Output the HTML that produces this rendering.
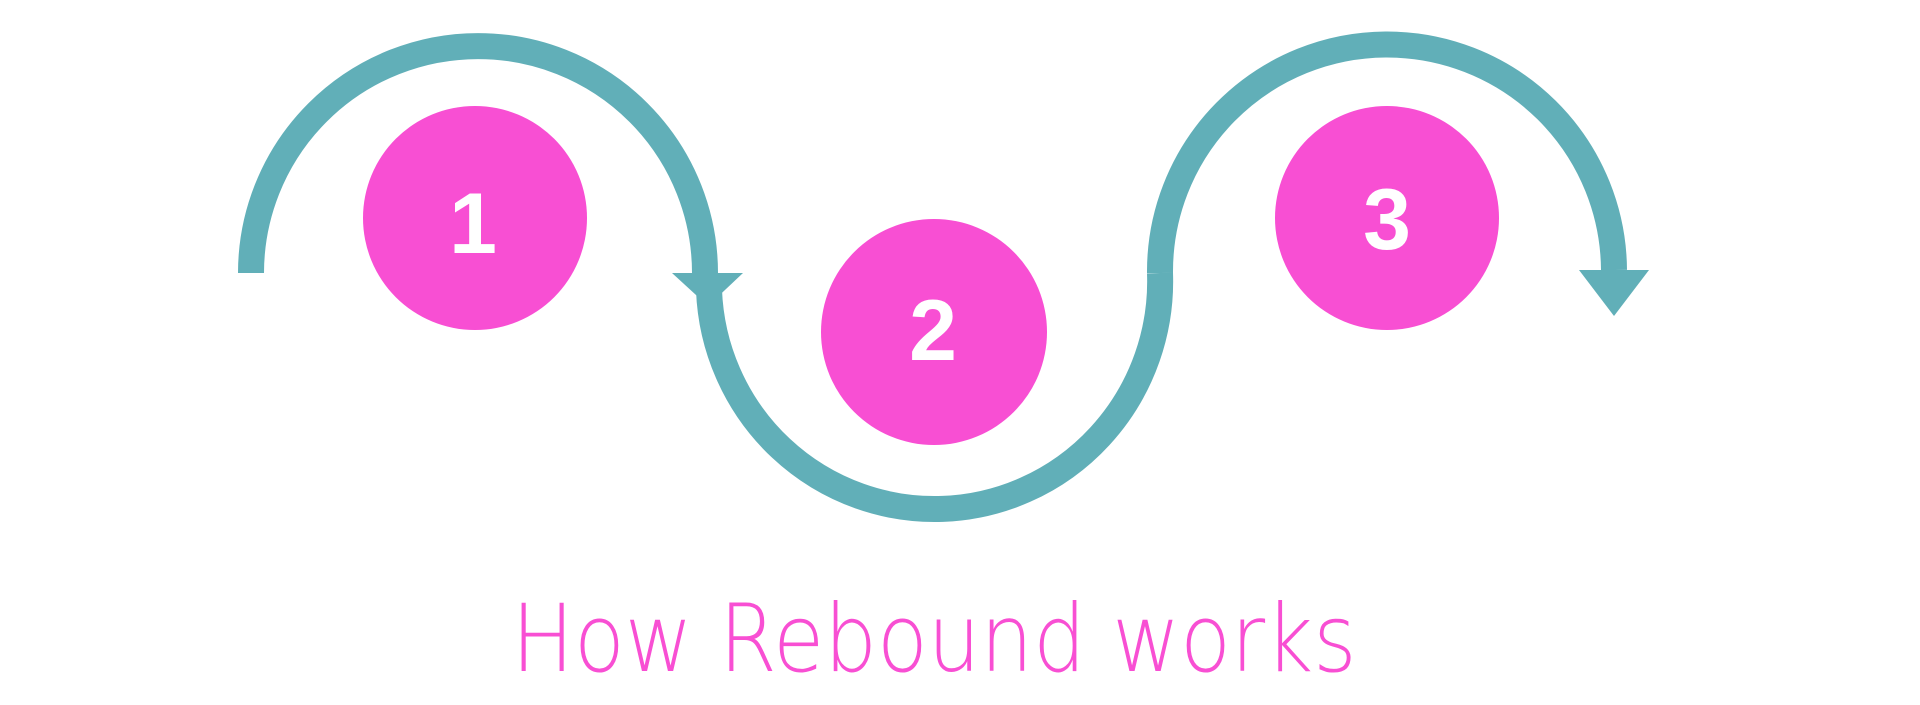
<!DOCTYPE html>
<html><head><meta charset="utf-8"><style>
html,body{margin:0;padding:0;background:#fff;}
body{width:1920px;height:700px;overflow:hidden;}
</style></head><body>
<svg width="1920" height="700" viewBox="0 0 1920 700" xmlns="http://www.w3.org/2000/svg">
<g fill="none" stroke="#61afb8" stroke-width="26">
<path d="M251 273 A227 227 0 0 1 705 273"/>
<path d="M709 290 A225 227 0 0 0 1160 273"/>
<path d="M1160 273 A227 227 0 0 1 1614 270"/>
</g>
<g fill="#61afb8">
<polygon points="672,273 743,273 708,306"/>
<polygon points="1579,270 1649,270 1614,316"/>
</g>
<g fill="#f84fd3">
<circle cx="475" cy="218" r="112"/>
<circle cx="934" cy="332" r="113"/>
<circle cx="1387" cy="218" r="112"/>
</g>
<g fill="#fff" font-family="Liberation Sans, sans-serif" font-weight="bold" font-size="86" text-anchor="middle">
<text x="473" y="253">1</text>
<text x="933" y="360">2</text>
<text x="1387" y="249">3</text>
</g>
<text x="934" y="671" fill="#f84fd3" font-family="DejaVu Sans, sans-serif" font-weight="200" font-size="94" text-anchor="middle" textLength="845" lengthAdjust="spacingAndGlyphs">How Rebound works</text>
</svg>
</body></html>
